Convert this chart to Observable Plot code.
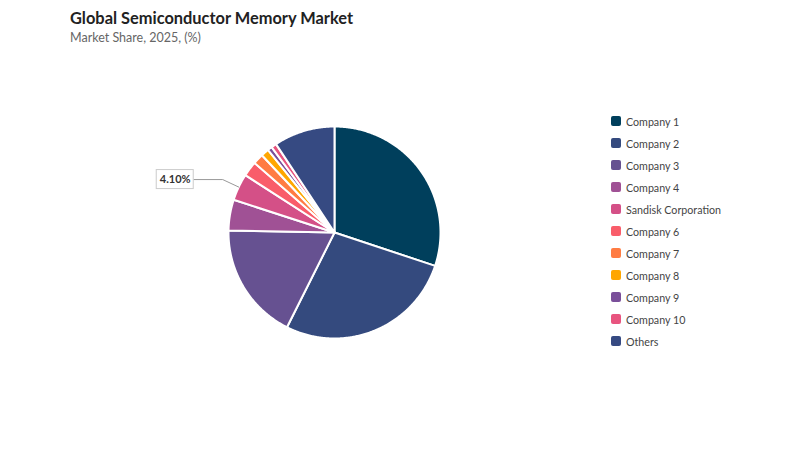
<!DOCTYPE html>
<html><head><meta charset="utf-8">
<script src="https://cdn.jsdelivr.net/npm/d3@7"></script>
<script src="https://cdn.jsdelivr.net/npm/@observablehq/plot@0.6"></script>
<style>
body{margin:0;background:#fff;font-family:Lato,"Open Sans",sans-serif;width:800px;height:450px;position:relative;overflow:hidden}
#title{position:absolute;left:70px;top:8px;font-size:16.4px;font-weight:700;color:#222}
#sub{position:absolute;left:70px;top:30px;font-size:12.5px;color:#666}
#chart{position:absolute;left:0;top:50px}
#legend{position:absolute;left:611px;top:110px;font-size:10.7px;color:#444}
#legend div{height:22px;display:flex;align-items:center}
#legend span.sw{width:10px;height:10px;border-radius:2px;margin-right:5px;display:inline-block}
</style></head><body>
<div id="title">Global Semiconductor Memory Market</div>
<div id="sub">Market Share, 2025, (%)</div>
<div id="chart"></div>
<div id="legend"></div>
<script>
const categories = ["Company 1","Company 2","Company 3","Company 4","Sandisk Corporation","Company 6","Company 7","Company 8","Company 9","Company 10","Others"];
const shares = [30.1, 27.3, 17.9, 4.7, 4.1, 2.3, 1.6, 1.2, 0.7, 0.8, 9.3];
const colors = ["#003f5c","#344a7e","#665191","#a05195","#d45087","#f95d6a","#ff7c43","#ffa600","#7a4f9a","#e8547f","#364a82"];
const labelled = "Sandisk Corporation";
const labelText = "4.10%";

const W = 800, H = 400, R = 106, CX = 334, CY = 182;
const total = d3.sum(shares);
const pts = [];
let start = 0;
const mids = {};
categories.forEach((c, i) => {
  const a0 = start / total * 2 * Math.PI;
  const a1 = (start + shares[i]) / total * 2 * Math.PI;
  mids[c] = (a0 + a1) / 2;
  pts.push({cat: c, x: 0, y: 0});
  const n = Math.max(2, Math.ceil((a1 - a0) / (Math.PI / 360)));
  for (let k = 0; k <= n; k++) {
    const a = a0 + (a1 - a0) * k / n;
    pts.push({cat: c, x: Math.sin(a), y: Math.cos(a)});
  }
  pts.push({cat: c, x: 0, y: 0});
  start += shares[i];
});

// label leader
const am = mids[labelled];
const ex = Math.sin(am), ey = Math.cos(am);
const ux = 1 / R; // one pixel in data units
const bendX = ex - 16 * ux, bendY = ey + 7.5 * ux;
const lx2 = bendX - 29 * ux;
const leader = [{x: ex, y: ey}, {x: bendX, y: bendY}, {x: lx2, y: bendY}];
const boxW = 37 * ux, boxH = 19 * ux;
const box = [{x1: lx2 - boxW, x2: lx2, y1: bendY - boxH / 2, y2: bendY + boxH / 2}];
const lab = [{x: lx2 - boxW / 2, y: bendY, t: labelText}];

const plot = Plot.plot({
  width: W, height: H, margin: 0,
  x: {domain: [-CX / R, (W - CX) / R], axis: null},
  y: {domain: [-(H - CY) / R, CY / R], axis: null},
  color: {domain: categories, range: colors},
  style: {fontFamily: "Lato, sans-serif", background: "white"},
  marks: [
    Plot.line(pts, {x: "x", y: "y", z: "cat", fill: "cat", stroke: "white", strokeWidth: 2, strokeLinejoin: "round", curve: "linear"}),
    Plot.line(leader, {x: "x", y: "y", stroke: "#999", strokeWidth: 1}),
    Plot.rect(box, {x1: "x1", x2: "x2", y1: "y1", y2: "y2", fill: "white", stroke: "#ccc", strokeWidth: 1}),
    Plot.text(lab, {x: "x", y: "y", text: "t", fontSize: 11, fontWeight: 700, fill: "#333"})
  ]
});
document.getElementById("chart").appendChild(plot);

const leg = document.getElementById("legend");
categories.forEach((c, i) => {
  const d = document.createElement("div");
  d.innerHTML = `<span class="sw" style="background:${colors[i]}"></span>${c}`;
  leg.appendChild(d);
});
</script>
</body></html>
